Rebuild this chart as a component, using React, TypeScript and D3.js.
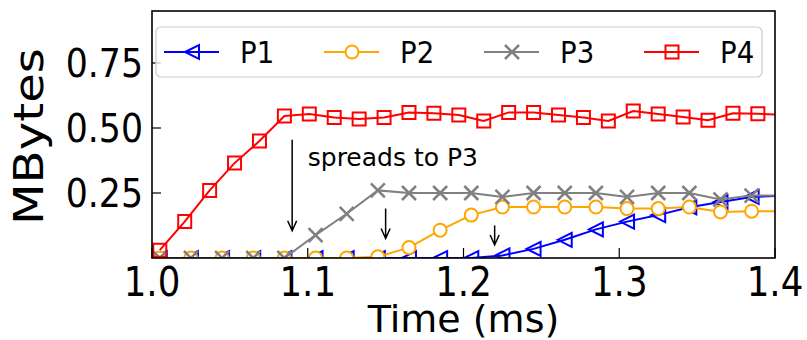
import React, { useEffect, useRef } from "react";
import * as d3 from "d3";

// sample times (ms)
const timesP4 = [
  1.005, 1.021, 1.037, 1.053, 1.069, 1.085, 1.101, 1.117, 1.133, 1.149, 1.165, 1.181, 1.197,
  1.213, 1.229, 1.245, 1.261, 1.277, 1.293, 1.309, 1.325, 1.341, 1.357, 1.373, 1.389, 1.405,
];
const timesP123 = [
  1.005, 1.025, 1.045, 1.065, 1.085, 1.105, 1.125, 1.145, 1.165, 1.185, 1.205, 1.225, 1.245,
  1.265, 1.285, 1.305, 1.325, 1.345, 1.365, 1.385, 1.405,
];

// MBytes
const p1Values = [0, 0, 0, 0, 0, 0, 0, 0, 0, 0, 0, 0.01, 0.035, 0.07, 0.11, 0.14, 0.165, 0.195, 0.215, 0.235, 0.24];
const p2Values = [0, 0, 0, 0, 0, 0, 0, 0.005, 0.04, 0.107, 0.165, 0.196, 0.196, 0.196, 0.196, 0.19, 0.19, 0.196, 0.177, 0.18, 0.18];
const p3Values = [0, 0, 0, 0, 0, 0.088, 0.17, 0.26, 0.25, 0.25, 0.25, 0.235, 0.25, 0.25, 0.25, 0.235, 0.25, 0.25, 0.225, 0.24, 0.24];
const p4Values = [
  0.03, 0.14, 0.26, 0.365, 0.45, 0.546, 0.554, 0.54, 0.535, 0.54, 0.56, 0.557, 0.55, 0.527,
  0.56, 0.56, 0.55, 0.54, 0.527, 0.565, 0.554, 0.542, 0.53, 0.557, 0.555, 0.55,
];

const seriesNames = ["P1", "P2", "P3", "P4"];
const xTicks = [1.0, 1.1, 1.2, 1.3, 1.4];
const yTicks = [0.25, 0.5, 0.75];

// arrows: [time, from, to]
const arrows: [number, number, number][] = [
  [1.09, 0.455, 0.105],
  [1.15, 0.19, 0.075],
  [1.22, 0.125, 0.05],
];
const noteText = "spreads to P3";

type Shape = "tri" | "circle" | "x" | "square";

const markerPath = (shape: Shape) => {
  if (shape === "square") return "M-6.5,-6.5h13v13h-13Z";
  if (shape === "tri") return "M-7,0L7,-7L7,7Z";
  if (shape === "x") return "M-7,-7L7,7M-7,7L7,-7";
  return "";
};

const App: React.FC = () => {
  const svgRef = useRef<SVGSVGElement | null>(null);

  useEffect(() => {
    const width = 807;
    const height = 340;
    const margin = { top: 11, right: 32, bottom: 82, left: 152 };
    const font = "DejaVu Sans, sans-serif";
    const squash = 0.89; // reference glyphs are a bit narrow

    const svg = d3.select(svgRef.current).attr("width", width).attr("height", height);
    svg.selectAll("*").remove();

    const x = d3.scaleLinear().domain([1.0, 1.4]).range([margin.left, width - margin.right]);
    const y = d3.scaleLinear().domain([0, 0.95]).range([height - margin.bottom, margin.top]);

    const series = [
      { name: seriesNames[0], t: timesP123, v: p1Values, color: "#0000ff", shape: "tri" as Shape },
      { name: seriesNames[1], t: timesP123, v: p2Values, color: "#ffa500", shape: "circle" as Shape },
      { name: seriesNames[2], t: timesP123, v: p3Values, color: "#808080", shape: "x" as Shape },
      { name: seriesNames[3], t: timesP4, v: p4Values, color: "#ff0000", shape: "square" as Shape },
    ];

    svg.append("defs")
      .append("clipPath")
      .attr("id", "plot-clip")
      .append("rect")
      .attr("x", x(1.0))
      .attr("y", y(0.95))
      .attr("width", x(1.4) - x(1.0))
      .attr("height", y(0) - y(0.95));

    const plot = svg.append("g").attr("clip-path", "url(#plot-clip)");

    const drawMarker = (g: any, shape: Shape, color: string) => {
      if (shape === "circle") {
        g.append("circle").attr("r", 6.5).attr("fill", "white").attr("stroke", color).attr("stroke-width", 2);
      } else {
        g.append("path")
          .attr("d", markerPath(shape))
          .attr("fill", "none")
          .attr("stroke", color)
          .attr("stroke-width", shape === "x" ? 2.5 : 2);
      }
    };

    series.forEach((s) => {
      const pts: [number, number][] = s.t.map((t, i) => [x(t), y(s.v[i])]);
      plot.append("path")
        .attr("d", d3.line()(pts))
        .attr("fill", "none")
        .attr("stroke", s.color)
        .attr("stroke-width", 2);
      pts.forEach((p) => {
        const g = plot.append("g").attr("transform", `translate(${p[0]},${p[1]})`);
        drawMarker(g, s.shape, s.color);
      });
    });

    // annotation
    arrows.forEach(([t, from, to]) => {
      const ax = x(t);
      const y1 = y(from);
      const y2 = y(to);
      svg.append("path")
        .attr("d", `M${ax},${y1}L${ax},${y2}M${ax - 4.5},${y2 - 10}L${ax},${y2}L${ax + 4.5},${y2 - 10}`)
        .attr("fill", "none")
        .attr("stroke", "black")
        .attr("stroke-width", 1.5);
    });
    svg.append("text")
      .attr("x", x(1.1))
      .attr("y", y(0.355))
      .attr("font-family", font)
      .attr("font-size", 25)
      .text(noteText);

    // ticks (inward)
    xTicks.forEach((t) => {
      svg.append("line")
        .attr("x1", x(t)).attr("x2", x(t))
        .attr("y1", y(0)).attr("y2", y(0) - 10)
        .attr("stroke", "black").attr("stroke-width", 1.2);
      svg.append("text")
        .attr("transform", `translate(${x(t)},${y(0) + 38}) scale(${squash},1)`)
        .attr("text-anchor", "middle")
        .attr("font-family", font)
        .attr("font-size", 40)
        .text(t.toFixed(1));
    });
    yTicks.forEach((t) => {
      svg.append("line")
        .attr("x1", x(1.0)).attr("x2", x(1.0) + 9)
        .attr("y1", y(t)).attr("y2", y(t))
        .attr("stroke", "black").attr("stroke-width", 1.2);
      svg.append("text")
        .attr("transform", `translate(${x(1.0) - 9},${y(t)}) scale(${squash},1)`)
        .attr("dy", "0.36em")
        .attr("text-anchor", "end")
        .attr("font-family", font)
        .attr("font-size", 39)
        .text(t.toFixed(2));
    });

    // frame
    svg.append("rect")
      .attr("x", x(1.0))
      .attr("y", y(0.95))
      .attr("width", x(1.4) - x(1.0))
      .attr("height", y(0) - y(0.95))
      .attr("fill", "none")
      .attr("stroke", "black")
      .attr("stroke-width", 1.6);

    // axis labels
    svg.append("text")
      .attr("x", (x(1.0) + x(1.4)) / 2)
      .attr("y", 332)
      .attr("text-anchor", "middle")
      .attr("font-family", font)
      .attr("font-size", 38)
      .text("Time (ms)");
    svg.append("text")
      .attr("transform", `translate(43,${(y(0) + y(0.95)) / 2 + 2}) rotate(-90)`)
      .attr("text-anchor", "middle")
      .attr("font-family", font)
      .attr("font-size", 40)
      .attr("textLength", 177)
      .attr("lengthAdjust", "spacingAndGlyphs")
      .text("MBytes");

    // legend
    const legend = svg.append("g");
    legend.append("rect")
      .attr("x", 156).attr("y", 27)
      .attr("width", 606).attr("height", 50)
      .attr("rx", 5)
      .attr("fill", "white").attr("fill-opacity", 0.8)
      .attr("stroke", "#cccccc").attr("stroke-width", 1.2);
    series.forEach((s, i) => {
      const lx = 164 + i * 160;
      const ly = 52;
      legend.append("line")
        .attr("x1", lx).attr("x2", lx + 55)
        .attr("y1", ly).attr("y2", ly)
        .attr("stroke", s.color).attr("stroke-width", 2);
      const g = legend.append("g").attr("transform", `translate(${lx + 28},${ly})`);
      drawMarker(g, s.shape, s.color);
      legend.append("text")
        .attr("transform", `translate(${lx + 76},${ly}) scale(${squash},1)`)
        .attr("dy", "0.36em")
        .attr("font-family", font)
        .attr("font-size", 31)
        .text(s.name);
    });
  }, []);

  return <svg ref={svgRef} style={{ position: "absolute", left: 0, top: 0 }} />;
};

export default App;
